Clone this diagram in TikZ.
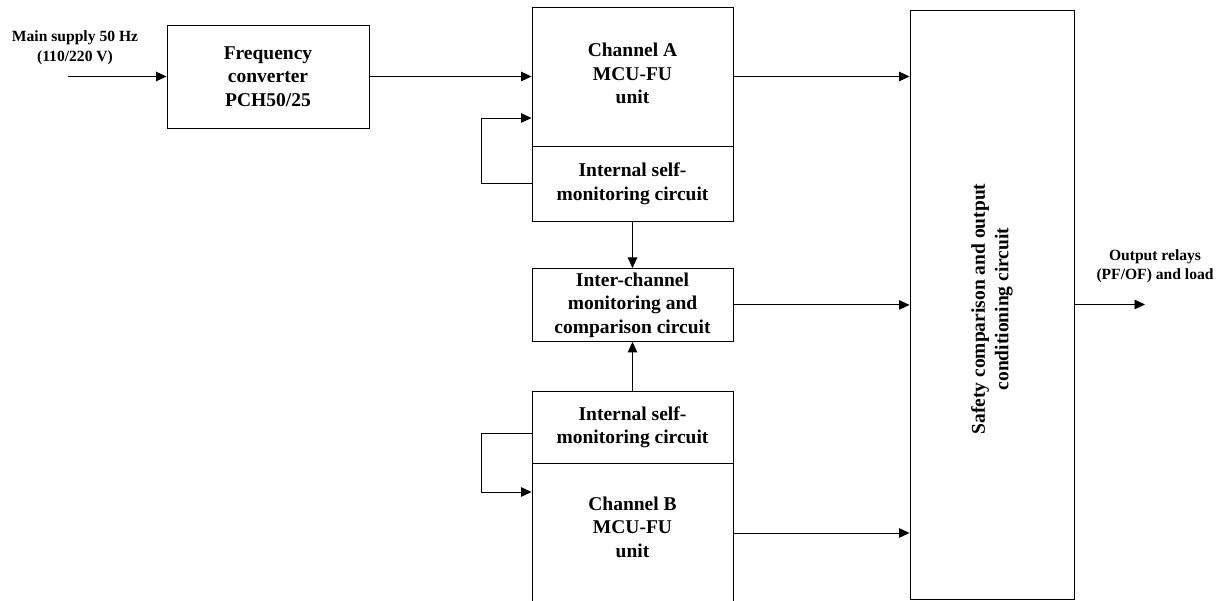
\documentclass[tikz,border=0pt]{standalone}
\usepackage{fontspec}
\setmainfont{Liberation Serif}
\usetikzlibrary{arrows.meta,calc}
\tikzset{
  blk/.style={draw=black, line width=0.9pt, inner sep=0pt},
  boxtxt/.style={font=\fontsize{19.5}{23.5}\selectfont\bfseries, align=center, inner sep=0pt},
  lbltxt/.style={font=\fontsize{15.6}{19.5}\selectfont\bfseries, align=center, inner sep=0pt},
  arr/.style={line width=0.9pt, -{Triangle[length=10.5pt,width=9.5pt]}},
  ln/.style={line width=0.9pt}
}
\begin{document}
\begin{tikzpicture}[x=1pt,y=-1pt]
\useasboundingbox (0,0) rectangle (1221,601);
\clip (0,0) rectangle (1221,601);
% blocks
\node[blk, minimum width=202, minimum height=103, boxtxt] (fc) at (268,76.5) {Frequency\\converter\\PCH50/25};
\node[blk, minimum width=201, minimum height=139, anchor=north] (chA) at (632.5,7) {};
\node[boxtxt] (chAt) at (632.5,73.5) {Channel A\\MCU-FU\\unit};
\node[blk, minimum width=201, minimum height=75, anchor=north, boxtxt] (selfA) at (632.5,146) {Internal self-\\monitoring circuit};
\node[blk, minimum width=201, minimum height=73, anchor=north, boxtxt] (inter) at (632.5,268) {Inter-channel\\monitoring and\\comparison circuit};
\node[blk, minimum width=201, minimum height=72, anchor=north, boxtxt] (selfB) at (632.5,391) {Internal self-\\monitoring circuit};
\node[blk, minimum width=201, minimum height=141, anchor=north] (chB) at (632.5,463) {};
\node[boxtxt] (chBt) at (632.5,527) {Channel B\\MCU-FU\\unit};
\node[blk, minimum width=164, minimum height=589, anchor=north] (safe) at (992,10) {};
\node[boxtxt, rotate=90] (safet) at (992,309) {Safety comparison and output\\conditioning circuit};
% labels
\node[lbltxt] (inlbl) at (75,48) {Main supply 50 Hz\\(110/220 V)};
\node[lbltxt] (outlbl) at (1155,266) {Output relays\\(PF/OF) and load};
\coordinate (src) at (68,76.5);
\coordinate (dst) at (1145,304.5);
% connectors
\draw[arr] (src) -- (fc.west);
\draw[arr] (fc.east) -- (fc.east -| chA.west);
\draw[arr] (selfA.west) -- ++(-50,0) |- ($(chA.north west)+(0,111)$);
\draw[arr] (selfA.south) -- (inter.north);
\draw[arr] (selfB.north) -- (inter.south);
\draw[arr] ($(selfB.north west)+(0,42)$) -- ++(-50,0) |- ($(chB.north west)+(0,29)$);
\draw[arr] ($(chA.north east)+(0,69.5)$) -- ($(safe.north west)+(0,66.5)$);
\draw[arr] (inter.east) -- (inter.east -| safe.west);
\draw[arr] ($(chB.north east)+(0,70)$) -- ($(safe.north west)+(0,523)$);
\draw[arr] (safe.east |- dst) -- (dst);
\end{tikzpicture}
\end{document}
